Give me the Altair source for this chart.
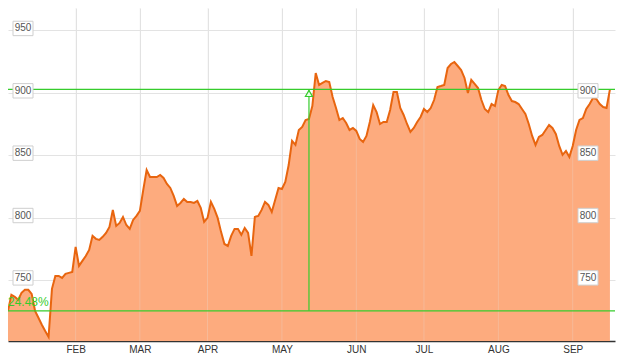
import altair as alt
import pandas as pd

# Daily closing values (trading-day index 0..178)
values = [
    725.2, 738.0, 736.4, 734.0, 739.6, 742.0, 742.0, 738.8, 725.2, 719.6,
    714.0, 709.0, 704.3, 742.8, 753.2, 753.2, 751.6, 754.8, 755.6, 756.4,
    776.4, 761.2, 765.2, 769.2, 774.0, 785.3, 782.9, 782.0, 784.5, 787.7,
    792.5, 806.0, 793.3, 795.7, 800.5, 794.0, 790.9, 798.1, 801.3, 805.3,
    822.1, 838.1, 832.5, 832.5, 832.5, 834.1, 831.7, 826.9, 823.7, 817.3,
    809.3, 811.7, 814.9, 812.5, 812.5, 811.7, 813.3, 807.7, 796.5, 799.7,
    812.5, 806.9, 799.7, 788.5, 778.8, 777.2, 785.3, 790.9, 790.9, 786.1,
    791.7, 787.7, 769.2, 800.5, 801.3, 806.1, 812.5, 810.1, 804.5, 814.1,
    823.7, 822.9, 828.5, 842.1, 861.4, 858.2, 870.2, 872.6, 878.2, 879.0,
    889.4, 915.9, 906.3, 907.9, 909.5, 908.7, 896.6, 887.8, 878.2, 879.8,
    875.8, 870.2, 871.8, 869.4, 863.0, 860.6, 865.4, 876.6, 890.2, 884.6,
    875.0, 876.6, 876.6, 886.2, 900.6, 900.6, 887.8, 882.2, 875.0, 868.6,
    871.8, 876.6, 880.6, 887.0, 884.6, 887.8, 894.2, 904.6, 905.4, 906.3,
    919.9, 923.1, 924.7, 921.5, 918.3, 911.9, 899.8, 910.3, 907.1, 903.8,
    894.2, 887.0, 884.6, 891.0, 889.4, 902.2, 906.3, 905.4, 898.2, 893.4,
    892.6, 891.0, 887.0, 883.0, 875.0, 865.4, 858.2, 864.6, 866.2, 870.2,
    874.2, 871.8, 867.0, 857.4, 850.2, 853.4, 848.6, 857.4, 870.2, 878.2,
    879.8, 887.0, 891.0, 895.8, 895.0, 891.0, 888.6, 887.8, 902.7,
]
month_labels = ["FEB", "MAR", "APR", "MAY", "JUN", "JUL", "AUG", "SEP"]
month_ticks = [20, 39, 59, 81, 103, 123, 145, 167]
left_levels = [750, 800, 850, 900, 950]
right_levels = [750, 800, 850, 900]
marker_index = 89

df = pd.DataFrame({"i": list(range(len(values))), "v": values})
start_v = values[0]
end_v = values[-1]
pct = (end_v / start_v - 1) * 100
ann = pd.DataFrame({"i": [marker_index], "lo": [start_v], "hi": [end_v],
                    "label": [f"{pct:.2f}%"]})
levels_df = pd.DataFrame({"v": [start_v, end_v]})
months_df = pd.DataFrame({"i": month_ticks})
left_df = pd.DataFrame({"v": left_levels})
right_df = pd.DataFrame({"v": right_levels})

GREEN = "#36cc2c"
Y_MIN = 701
x_scale = alt.Scale(domain=[0, 179.5], nice=False, zero=False)
y_scale = alt.Scale(domain=[Y_MIN, 968], nice=False, zero=False)
label_expr = f"{month_labels}[indexof({month_ticks}, datum.value)]"

x_axis = alt.Axis(
    values=month_ticks, labelExpr=label_expr, title=None, ticks=False,
    grid=True, gridColor="#e3e3e3", domainColor="#333333", domainWidth=1.5,
    labelFont="Liberation Sans", labelFontSize=10, labelColor="#333333",
    labelPadding=3)
y_axis = alt.Axis(
    values=left_levels, labels=False, ticks=False, domain=False, title=None,
    grid=True, gridColor="#e3e3e3")


def X(field):
    return alt.X(field, type="quantitative", scale=x_scale, axis=x_axis)


def Y(field):
    return alt.Y(field, type="quantitative", scale=y_scale, axis=y_axis)


area = alt.Chart(df).mark_area(color="#fdab7e", opacity=1).encode(
    x=X("i"), y=Y("v"), y2=alt.datum(Y_MIN))

vgrid = alt.Chart(months_df).mark_rule(color="#e6e6e6", opacity=0.25, strokeWidth=1).encode(
    x=X("i"))

line = alt.Chart(df).mark_line(color="#e8650f", strokeWidth=2).encode(
    x=X("i"), y=Y("v"))

hrules = alt.Chart(levels_df).mark_rule(color=GREEN, strokeWidth=1.2).encode(
    y=Y("v"))

vrule = alt.Chart(ann).mark_rule(color=GREEN, strokeWidth=1.2).encode(
    x=X("i"), y=Y("lo"), y2="hi:Q")

tri = alt.Chart(ann).mark_point(shape="triangle-up", size=50, filled=True,
                                fill="#eaffea", stroke=GREEN, strokeWidth=1.2,
                                opacity=1, yOffset=4).encode(
    x=X("i"), y=Y("hi"))

pct_text = alt.Chart(ann).mark_text(align="left", baseline="alphabetic", dy=-5,
                                    fontSize=12, color=GREEN,
                                    font="Liberation Sans").encode(
    x=alt.value(0), y=Y("lo"), text="label:N")

BOX = "M-1,-0.72L1,-0.72L1,0.72L-1,0.72Z"


def level_labels(data, xpos):
    box = alt.Chart(data).mark_point(shape=BOX, size=400, filled=True, fill="white",
                                     stroke="#cfcfcf", strokeWidth=1, opacity=1,
                                     yOffset=-2).encode(
        x=alt.value(xpos), y=Y("v"))
    txt = alt.Chart(data).mark_text(fontSize=10, color="#555555", font="Liberation Sans",
                                    baseline="middle", dy=-2).encode(
        x=alt.value(xpos), y=Y("v"), text="v:Q")
    return box + txt


chart = alt.layer(
    area, vgrid, line, hrules, vrule, tri,
    level_labels(left_df, 15), level_labels(right_df, 580), pct_text
).properties(
    width=607, height=333,
    padding={"left": 0, "top": 0, "right": 2, "bottom": 17},
    autosize=alt.AutoSizeParams(type="none"),
    background="white",
).configure_view(stroke=None)

chart.save("out.html", embed_options={"renderer": "svg", "actions": False})
